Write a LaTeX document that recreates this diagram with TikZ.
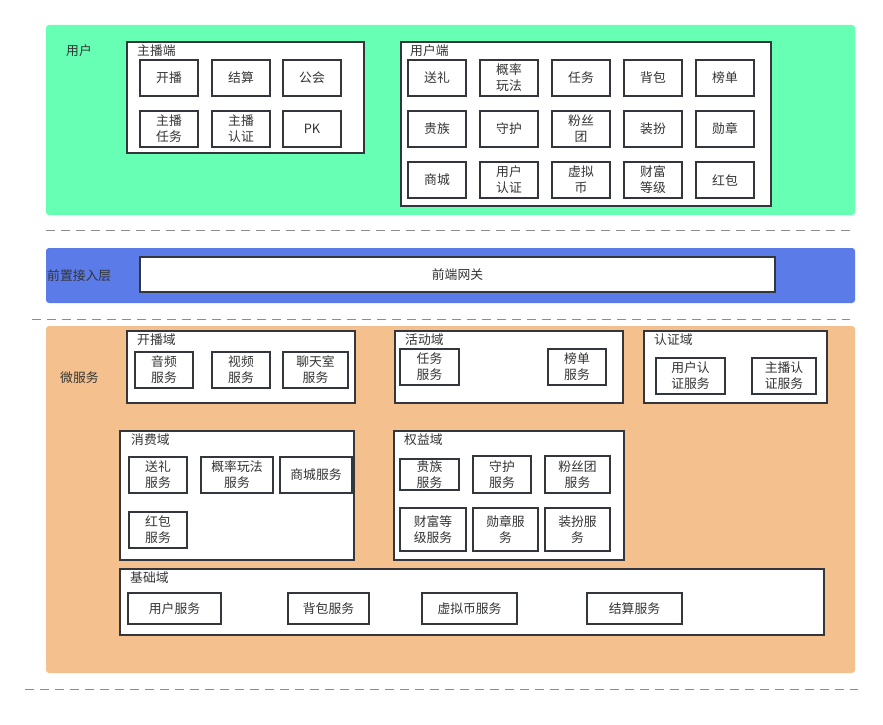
\documentclass[tikz,border=0pt]{standalone}
\usepackage{fontspec}
\setmainfont{Noto Sans CJK SC}
\definecolor{grn}{HTML}{66FFB3}
\definecolor{blu}{HTML}{5B7BE9}
\definecolor{org}{HTML}{F4C18E}
\definecolor{linec}{HTML}{33373D}
\definecolor{txt}{HTML}{333333}
\definecolor{dashc}{HTML}{8C8C8C}
\newcommand\fs{\fontsize{12.8}{16}\selectfont}
\tikzset{
  box/.style={draw=linec, line width=1.4pt, fill=white, inner sep=0pt, outer sep=0pt, align=center, font=\fs, text=txt},
  layer/.style={draw=none, rounded corners=3pt, inner sep=0pt, outer sep=0pt},
  ttl/.style={font=\fs, text=txt, inner sep=0pt, anchor=west},
  dashline/.style={draw=dashc, line width=1pt, dash pattern=on 9pt off 6pt},
}
\newcommand\mybox[6]{\node[box, anchor=north west, minimum width={(#4)-(#2)}, minimum height={(#5)-(#3)}] (#1) at (#2,#3) {#6};}
\newcommand\mylayer[6]{\node[layer, fill=#6, anchor=north west, minimum width={(#4)-(#2)}, minimum height={(#5)-(#3)}] (#1) at (#2,#3) {};}
\begin{document}
\begin{tikzpicture}[x=1pt,y=-1pt]
\useasboundingbox (0,0) rectangle (883,725);
% layers
\mylayer{luser}{46}{25}{855}{215}{grn}
\mylayer{lgate}{46}{248}{855}{303}{blu}
\mylayer{lsvc}{46}{326}{855}{673}{org}
\node[ttl] (tuser) at (66,51) {用户};
\node[ttl] (tgate) at (47,276) {前置接入层};
\node[ttl] (tsvc) at (60,378) {微服务};
% dashed separators
\coordinate (d1a) at (46,230); \coordinate (d1b) at (855,230);
\coordinate (d2a) at (32,319); \coordinate (d2b) at (850,319);
\coordinate (d3a) at (25,689); \coordinate (d3b) at (858,689);
\draw[dashline] (d1a) -- (d1b);
\draw[dashline] (d2a) -- (d2b);
\draw[dashline] (d3a) -- (d3b);
% 主播端
\mybox{cA}{127}{42}{364}{153}{}
\node[ttl] (tA) at (137,51) {主播端};
\mybox{a1}{140}{60}{198}{96}{开播}
\mybox{a2}{212}{60}{270}{96}{结算}
\mybox{a3}{283}{60}{341}{96}{公会}
\mybox{a4}{140}{111}{198}{147}{主播\\任务}
\mybox{a5}{212}{111}{270}{147}{主播\\认证}
\mybox{a6}{283}{111}{341}{147}{PK}
% 用户端
\mybox{cB}{401}{42}{771}{206}{}
\node[ttl] (tB) at (410,51) {用户端};
\mybox{b1}{408}{60}{466}{96}{送礼}
\mybox{b2}{480}{60}{538}{96}{概率\\玩法}
\mybox{b3}{552}{60}{610}{96}{任务}
\mybox{b4}{624}{60}{682}{96}{背包}
\mybox{b5}{696}{60}{754}{96}{榜单}
\mybox{b6}{408}{111}{466}{147}{贵族}
\mybox{b7}{480}{111}{538}{147}{守护}
\mybox{b8}{552}{111}{610}{147}{粉丝\\团}
\mybox{b9}{624}{111}{682}{147}{装扮}
\mybox{b10}{696}{111}{754}{147}{勋章}
\mybox{b11}{408}{162}{466}{198}{商城}
\mybox{b12}{480}{162}{538}{198}{用户\\认证}
\mybox{b13}{552}{162}{610}{198}{虚拟\\币}
\mybox{b14}{624}{162}{682}{198}{财富\\等级}
\mybox{b15}{696}{162}{754}{198}{红包}
% gateway
\mybox{gw}{140}{257}{775}{292}{前端网关}
% 开播域
\mybox{cK}{127}{331}{355}{403}{}
\node[ttl] (tK) at (137,340) {开播域};
\mybox{k1}{135}{352}{193}{388}{音频\\服务}
\mybox{k2}{212}{352}{270}{388}{视频\\服务}
\mybox{k3}{283}{352}{348}{388}{聊天室\\服务}
% 活动域
\mybox{cH}{395}{331}{623}{403}{}
\node[ttl] (tH) at (405,340) {活动域};
\mybox{h1}{400}{349}{459}{385}{任务\\服务}
\mybox{h2}{548}{349}{606}{385}{榜单\\服务}
% 认证域
\mybox{cR}{644}{331}{827}{403}{}
\node[ttl] (tR) at (654,340) {认证域};
\mybox{r1}{656}{358}{725}{394}{用户认\\证服务}
\mybox{r2}{752}{358}{816}{394}{主播认\\证服务}
% 消费域
\mybox{cX}{120}{431}{354}{560}{}
\node[ttl] (tX) at (131,440) {消费域};
\mybox{x1}{129}{457}{187}{493}{送礼\\服务}
\mybox{x2}{201}{457}{273}{493}{概率玩法\\服务}
\mybox{x3}{280}{457}{352}{493}{商城服务}
\mybox{x4}{129}{512}{187}{548}{红包\\服务}
% 权益域
\mybox{cQ}{394}{431}{624}{560}{}
\node[ttl] (tQ) at (404,440) {权益域};
\mybox{q1}{400}{459}{459}{490}{贵族\\服务}
\mybox{q2}{473}{456}{531}{493}{守护\\服务}
\mybox{q3}{545}{456}{610}{493}{粉丝团\\服务}
\mybox{q4}{400}{508}{466}{551}{财富等\\级服务}
\mybox{q5}{473}{508}{538}{551}{勋章服\\务}
\mybox{q6}{545}{508}{610}{551}{装扮服\\务}
% 基础域
\mybox{cJ}{120}{569}{824}{635}{}
\node[ttl] (tJ) at (130,578) {基础域};
\mybox{j1}{128}{593}{221}{624}{用户服务}
\mybox{j2}{288}{593}{369}{624}{背包服务}
\mybox{j3}{422}{593}{517}{624}{虚拟币服务}
\mybox{j4}{587}{593}{682}{624}{结算服务}
\end{tikzpicture}
\end{document}
